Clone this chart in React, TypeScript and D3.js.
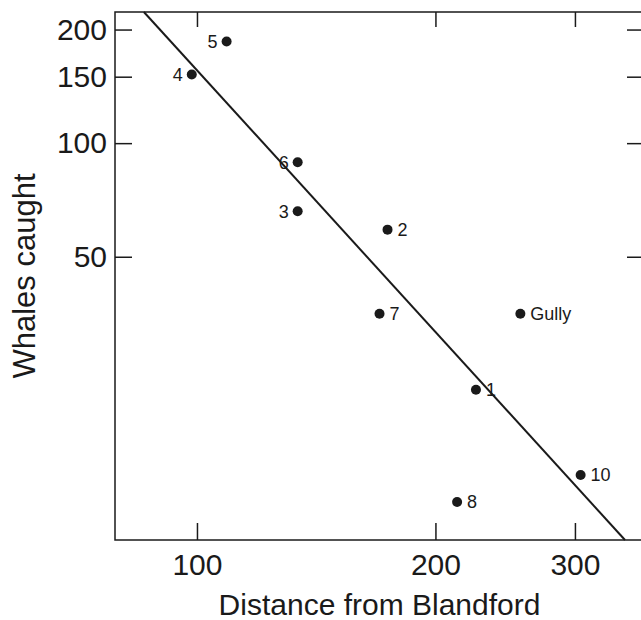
import { useEffect, useRef } from "react";
import * as d3 from "d3";

// site labels, distance from Blandford (x) and whales caught (y)
const siteLabels = ["1", "2", "3", "4", "5", "6", "7", "8", "10", "Gully"];
const distances = [225, 174, 134, 98.5, 109, 134, 170, 213, 305, 256];
const catches = [22.2, 59, 66, 152, 186, 89, 35.3, 11.2, 13.2, 35.3];
const labelSides = ["right", "right", "left", "left", "left", "left", "right", "right", "right", "right"];

const xTicks = [100, 200, 300];
const yTicks = [50, 100, 150, 200];

// fitted line (log-log), two end points
const fitX = [85.7, 347];
const fitY = [222.6, 8.88];

const W = 641;
const H = 620;
const margin = { top: 12, right: -3, bottom: 80, left: 115 };
const FONT = "'Liberation Sans', Arial, sans-serif";
const INK = "#1a1a1a";

export default function App() {
  const ref = useRef<SVGSVGElement>(null);

  useEffect(() => {
    const svg = d3.select(ref.current);
    svg.selectAll("*").remove();

    const x = d3.scaleLog().domain([78.8, 366.7]).range([margin.left, W - margin.right]);
    const y = d3.scaleLog().domain([8.88, 222.6]).range([H - margin.bottom, margin.top]);

    const x0 = margin.left, x1 = W - margin.right;
    const y0 = margin.top, y1 = H - margin.bottom;

    // frame
    svg.append("rect")
      .attr("x", x0).attr("y", y0)
      .attr("width", x1 - x0).attr("height", y1 - y0)
      .attr("fill", "none").attr("stroke", INK).attr("stroke-width", 1.5);

    const styleAxis = (g: any, labels: boolean) => {
      g.select(".domain").remove();
      g.selectAll("line").attr("stroke", INK).attr("stroke-width", 1.5);
      g.selectAll("text")
        .attr("font-family", FONT)
        .attr("font-size", 30)
        .attr("fill", INK)
        .style("display", labels ? null : "none");
    };

    svg.append("g")
      .attr("transform", `translate(0,${y1})`)
      .call(d3.axisBottom(x).tickValues(xTicks).tickFormat(d3.format("d")).tickSize(-17).tickPadding(14))
      .call((g: any) => styleAxis(g, true));

    svg.append("g")
      .attr("transform", `translate(0,${y0})`)
      .call(d3.axisTop(x).tickValues(xTicks).tickSize(-15))
      .call((g: any) => styleAxis(g, false));

    svg.append("g")
      .attr("transform", `translate(${x0},0)`)
      .call(d3.axisLeft(y).tickValues(yTicks).tickFormat(d3.format("d")).tickSize(-17).tickPadding(8))
      .call((g: any) => styleAxis(g, true));

    svg.append("g")
      .attr("transform", `translate(${x1},0)`)
      .call(d3.axisRight(y).tickValues(yTicks).tickSize(-17))
      .call((g: any) => styleAxis(g, false));

    // regression line
    const line = d3.line<number>()
      .x((d) => x(fitX[d]))
      .y((d) => y(fitY[d]));
    svg.append("path")
      .attr("d", line([0, 1]))
      .attr("fill", "none")
      .attr("stroke", INK)
      .attr("stroke-width", 2);

    // points
    const idx = d3.range(siteLabels.length);
    svg.append("g").selectAll("circle")
      .data(idx)
      .join("circle")
      .attr("cx", (i) => x(distances[i]))
      .attr("cy", (i) => y(catches[i]))
      .attr("r", 5)
      .attr("fill", INK);

    svg.append("g").selectAll("text")
      .data(idx)
      .join("text")
      .attr("x", (i) => x(distances[i]) + (labelSides[i] === "left" ? -9 : 10))
      .attr("y", (i) => y(catches[i]))
      .attr("dy", "0.35em")
      .attr("text-anchor", (i) => (labelSides[i] === "left" ? "end" : "start"))
      .attr("font-family", FONT)
      .attr("font-size", 18)
      .attr("fill", INK)
      .text((i) => siteLabels[i]);

    // axis titles
    svg.append("text")
      .attr("x", (x0 + x1) / 2)
      .attr("y", 615)
      .attr("text-anchor", "middle")
      .attr("font-family", FONT)
      .attr("font-size", 30)
      .attr("fill", INK)
      .text("Distance from Blandford");

    svg.append("text")
      .attr("transform", `translate(35,${(y0 + y1) / 2}) rotate(-90)`)
      .attr("text-anchor", "middle")
      .attr("font-family", FONT)
      .attr("font-size", 31)
      .attr("fill", INK)
      .text("Whales caught");
  }, []);

  return (
    <svg
      ref={ref}
      width={W}
      height={H}
      style={{ position: "absolute", left: 0, top: 0, background: "#fff" }}
    />
  );
}
